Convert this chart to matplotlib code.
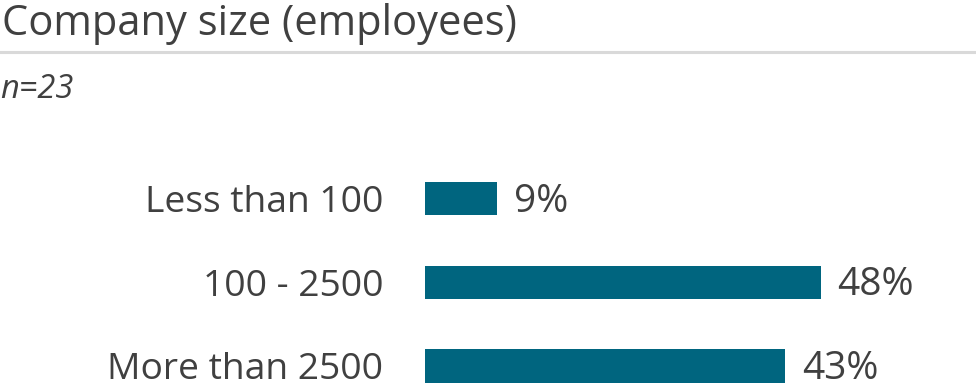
import matplotlib.pyplot as plt

categories = ["Less than 100", "100 - 2500", "More than 2500"]
shares = [8.7, 47.8, 43.5]
share_labels = ["9%", "48%", "43%"]
title = "Company size (employees)"
subtitle = "n=23"

TEXT = "#404040"
BAR = "#00657f"

plt.rcParams['font.family'] = ['Open Sans', 'DejaVu Sans']

W, H = 976, 391
fig = plt.figure(figsize=(W / 100, H / 100), dpi=100)

fig.text(2 / W, 1 - 24 / H, title, fontsize=30, color=TEXT, va='center', ha='left')
fig.add_artist(plt.Line2D([0, 1], [1 - 52 / H, 1 - 52 / H],
                          color='#d9d9d9', lw=2.2, transform=fig.transFigure))
fig.text(0 / W, 1 - 89 / H, subtitle, fontsize=23.5, color=TEXT, style='italic',
         va='center', ha='left')

ax = fig.add_axes([425 / W, 0.0003, 551 / W, 242.2 / H])
pos = range(len(categories))
ax.barh(pos, shares, height=0.4, color=BAR)
ax.set_xlim(0, 551 / 8.28)
ax.set_ylim(2.3, -0.6)
ax.set_yticks(list(pos))
ax.set_yticklabels(categories, fontsize=26.8, color=TEXT)
ax.tick_params(axis='y', length=0, pad=30)
ax.set_xticks([])
for s in ax.spines.values():
    s.set_visible(False)

for i, (v, lab) in enumerate(zip(shares, share_labels)):
    ax.annotate(lab, (v, i), xytext=(12, -2), textcoords='offset points',
                va='center', ha='left', fontsize=28, color=TEXT)

fig.savefig("out.png", dpi=100)
